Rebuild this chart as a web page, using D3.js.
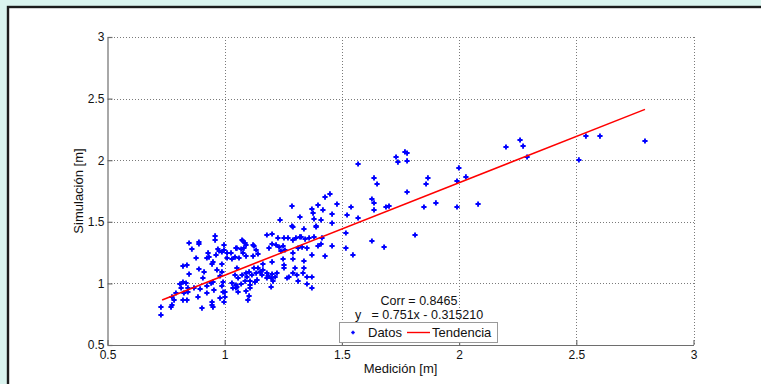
<!DOCTYPE html>
<html>
<head>
<meta charset="utf-8">
<script src="https://cdn.jsdelivr.net/npm/d3@7"></script>
<style>
  html, body { margin: 0; padding: 0; background: #daf4ef; }
  svg { display: block; }
  text { font-family: "Liberation Sans", Arial, Helvetica, sans-serif; fill: #111; }
</style>
</head>
<body>
<svg id="chart" width="761" height="384"></svg>
<script>
// Measured values (Medición) and simulated values (Simulación), in metres
const medicion = [
  0.728, 0.728, 0.771, 0.775, 0.775, 0.784, 0.792, 0.814, 0.809, 0.822,
  0.835, 0.826, 0.843, 0.843, 0.839, 0.869, 0.886, 0.895, 0.903, 0.924,
  0.924, 0.942, 0.950, 0.954, 0.946, 0.946, 0.950, 0.980, 0.993, 1.001,
  0.997, 1.001, 0.988, 0.993, 0.980, 0.988, 0.967, 0.988, 1.031, 1.048,
  1.035, 1.048, 1.057, 0.848, 0.890, 0.912, 0.907, 0.839, 0.822, 0.878,
  0.860, 0.848, 0.890, 0.890, 0.959, 0.959, 0.924, 0.929, 0.950, 0.946,
  0.963, 0.971, 0.976, 0.988, 0.997, 1.010, 1.027, 1.048, 1.010, 1.031,
  1.044, 0.822, 0.933, 1.121, 0.997,
  1.291, 1.338, 1.390, 1.180, 1.202, 1.227, 1.253, 1.270, 1.291, 1.304,
  1.326, 1.343, 1.360, 1.381, 1.415, 1.074, 1.087, 1.052, 1.070, 1.082,
  1.091, 1.125, 1.134, 1.078, 1.091, 1.061, 1.121, 1.142, 1.189, 1.202,
  1.219, 1.232, 1.249, 1.257, 1.240, 1.291, 1.313, 1.330, 1.351, 1.398,
  1.411, 1.458, 1.428, 1.372, 1.291, 1.249, 1.253, 1.253, 1.300, 1.338,
  1.338, 1.334, 1.291, 1.266, 1.274, 1.308, 1.313, 1.351, 1.372, 1.351,
  1.372, 1.202, 1.163, 1.142, 1.125, 1.104, 1.091, 1.074, 1.057, 1.095,
  1.116, 1.134, 1.151, 1.163, 1.180, 1.185, 1.202, 1.215, 1.223, 1.198,
  1.180, 1.159, 1.138, 1.108, 1.087, 1.070, 1.108, 1.129, 1.206, 1.198,
  1.108, 1.091, 1.104, 1.099, 1.052, 1.044, 1.052, 1.078, 1.321,
  1.236, 1.287, 1.287, 1.321, 1.372, 1.377, 1.398, 1.419, 1.428, 1.449,
  1.479, 1.458, 1.458, 1.411, 1.381, 1.390, 1.522, 1.517, 1.517, 1.539,
  1.547, 1.569, 1.569, 1.628, 1.637, 1.637, 1.637, 1.650, 1.628, 1.680,
  1.688, 1.701, 1.731, 1.739, 1.769, 1.778, 1.778, 1.778, 1.812, 1.850,
  1.859, 1.867, 1.901, 1.991, 1.991, 1.999, 2.029, 2.081, 2.200, 2.260,
  2.273, 2.290, 2.511, 2.541, 2.601, 2.793
];
const simulacion = [
  0.808, 0.744, 0.808, 0.825, 0.890, 0.865, 0.922, 0.963, 0.995, 1.011,
  1.003, 0.922, 0.930, 0.963, 0.865, 0.963, 0.890, 0.955, 0.800, 0.922,
  0.979, 1.003, 1.011, 0.946, 0.825, 0.849, 0.808, 0.881, 0.930, 0.890,
  0.849, 0.930, 0.979, 1.011, 1.060, 1.093, 1.109, 1.157, 1.003, 0.987,
  0.963, 0.963, 0.930, 1.076, 1.117, 1.093, 1.044, 1.149, 1.141, 1.206,
  1.279, 1.328, 1.336, 1.320, 1.385, 1.352, 1.206, 1.247, 1.174, 1.157,
  1.231, 1.279, 1.263, 1.255, 1.271, 1.247, 1.247, 1.287, 1.206, 1.198,
  1.214, 0.865, 1.214, 1.312, 1.312,
  1.458, 1.442, 1.458, 1.393, 1.401, 1.369, 1.369, 1.369, 1.352, 1.369,
  1.377, 1.360, 1.369, 1.377, 1.369, 1.352, 1.328, 1.287, 1.279, 1.287,
  1.312, 1.304, 1.271, 1.247, 1.222, 1.206, 1.222, 1.239, 1.287, 1.320,
  1.312, 1.295, 1.304, 1.271, 1.263, 1.247, 1.287, 1.295, 1.287, 1.304,
  1.320, 1.304, 1.222, 1.231, 1.198, 1.198, 1.149, 1.125, 1.125, 1.182,
  1.125, 1.084, 1.084, 1.044, 1.052, 1.068, 1.019, 1.052, 1.052, 0.995,
  0.963, 1.174, 1.157, 1.125, 1.125, 1.093, 1.084, 1.068, 1.044, 1.052,
  1.068, 1.084, 1.093, 1.109, 1.084, 1.060, 1.076, 1.052, 1.084, 1.044,
  1.044, 1.068, 1.028, 1.019, 1.019, 0.995, 0.987, 1.011, 1.019, 0.971,
  0.963, 0.938, 0.898, 0.865, 0.971, 1.068, 1.125, 1.344, 1.377,
  1.515, 1.628, 1.466, 1.539, 1.604, 1.571, 1.636, 1.596, 1.701, 1.726,
  1.644, 1.563, 1.490, 1.515, 1.523, 1.466, 1.555, 1.409, 1.287, 1.620,
  1.231, 1.969, 1.531, 1.685, 1.653, 1.596, 1.856, 1.807, 1.344, 1.295,
  1.620, 1.628, 2.026, 1.985, 2.067, 2.058, 1.994, 1.742, 1.393, 1.620,
  1.807, 1.856, 1.653, 1.620, 1.831, 1.937, 1.864, 1.644, 2.107, 2.164,
  2.115, 2.026, 2.002, 2.196, 2.196, 2.156
];

// Trend line (Tendencia): y = slope * x + intercept over the measured range
const trendSlope = 0.751;
const trendIntercept = 0.315210;
const trendX = [0.733, 2.793];

// Axis ticks and labels
const xTicks = [0.5, 1, 1.5, 2, 2.5, 3];
const xTickLabels = ["0.5", "1", "1.5", "2", "2.5", "3"];
const yTicks = [0.5, 1, 1.5, 2, 2.5, 3];
const yTickLabels = ["0.5", "1", "1.5", "2", "2.5", "3"];

const xTitle = "Medición [m]";
const yTitle = "Simulación [m]";
const statLines = ["Corr = 0.8465", "y   = 0.751x - 0.315210"];
const legendLabels = ["Datos", "Tendencia"];

const svg = d3.select("#chart");

// Figure panel (white with dark frame, running off the right/bottom edges)
svg.append("rect")
  .attr("x", 8).attr("y", 7)
  .attr("width", 800).attr("height", 420)
  .attr("fill", "#ffffff")
  .attr("stroke", "#1c1c1c")
  .attr("stroke-width", 2.4);

const plot = { left: 107.5, right: 693.5, top: 37, bottom: 345 };

const x = d3.scaleLinear().domain([0.5, 3]).range([plot.left, plot.right]);
const y = d3.scaleLinear().domain([0.5, 3]).range([plot.bottom, plot.top]);

// Dotted grid
const grid = svg.append("g")
  .attr("stroke", "#7a7a7a")
  .attr("stroke-width", 1)
  .attr("stroke-dasharray", "1,2")
  .attr("shape-rendering", "crispEdges");
grid.selectAll("line.gx").data(xTicks.slice(1)).join("line")
  .attr("x1", d => Math.round(x(d)) + 0.5).attr("x2", d => Math.round(x(d)) + 0.5)
  .attr("y1", plot.top).attr("y2", plot.bottom);
grid.selectAll("line.gy").data(yTicks.slice(1)).join("line")
  .attr("x1", plot.left).attr("x2", plot.right)
  .attr("y1", d => Math.round(y(d)) + 0.5).attr("y2", d => Math.round(y(d)) + 0.5);

// Axes (bottom and left only, inward ticks)
const xAxis = d3.axisBottom(x)
  .tickValues(xTicks)
  .tickFormat((d, i) => xTickLabels[i])
  .tickSizeInner(-5).tickSizeOuter(0).tickPadding(5);
const yAxis = d3.axisLeft(y)
  .tickValues(yTicks)
  .tickFormat((d, i) => yTickLabels[i])
  .tickSizeInner(-5).tickSizeOuter(0).tickPadding(3);

function styleAxis(g) {
  g.select(".domain").attr("stroke", "#6e6e6e").attr("stroke-width", 1.2);
  g.selectAll(".tick line").attr("stroke", "#6e6e6e").attr("stroke-width", 1.2);
  g.selectAll(".tick text")
    .attr("fill", "#111")
    .style("font-size", "12px")
    .style("font-family", "'Liberation Sans', Arial, sans-serif");
}

svg.append("g")
  .attr("transform", `translate(0,${plot.bottom})`)
  .call(xAxis).call(styleAxis);
svg.append("g")
  .attr("transform", `translate(${plot.left},0)`)
  .call(yAxis).call(styleAxis);

// Axis titles
svg.append("text")
  .attr("x", (plot.left + plot.right) / 2)
  .attr("y", 373)
  .attr("text-anchor", "middle")
  .style("font-size", "13px")
  .text(xTitle);
svg.append("text")
  .attr("transform", `translate(83,${(plot.top + plot.bottom) / 2}) rotate(-90)`)
  .attr("text-anchor", "middle")
  .style("font-size", "13px")
  .text(yTitle);

// Scatter points
const plusPath = "M-2.6,0H2.6M0,-2.6V2.6";
svg.append("g")
  .selectAll("path")
  .data(d3.range(medicion.length))
  .join("path")
  .attr("transform", i => `translate(${x(medicion[i])},${y(simulacion[i])})`)
  .attr("d", plusPath)
  .attr("stroke", "#0000ff")
  .attr("stroke-width", 1.9)
  .attr("fill", "none");

// Trend line
svg.append("path")
  .datum(trendX)
  .attr("d", d3.line().x(d => x(d)).y(d => y(trendSlope * d + trendIntercept)))
  .attr("stroke", "#ff0000")
  .attr("stroke-width", 1.5)
  .attr("fill", "none");

// Statistics annotation
const stat = svg.append("text")
  .attr("text-anchor", "middle")
  .style("font-size", "12.5px")
  .style("white-space", "pre");
statLines.forEach((line, i) => {
  stat.append("tspan")
    .attr("x", 419)
    .attr("y", 305 + i * 14)
    .attr("xml:space", "preserve")
    .text(line);
});

// Legend
const legend = svg.append("g").attr("transform", "translate(339,322)");
legend.append("rect")
  .attr("x", 0.5).attr("y", 0.5)
  .attr("width", 158).attr("height", 20)
  .attr("fill", "#ffffff")
  .attr("stroke", "#9a9a9a")
  .attr("stroke-width", 1);
legend.append("path")
  .attr("transform", "translate(14,10.5)")
  .attr("d", "M-1.8,0H1.8M0,-1.8V1.8")
  .attr("stroke", "#0000ff")
  .attr("stroke-width", 1.6);
legend.append("text")
  .attr("x", 29).attr("y", 15)
  .style("font-size", "13px")
  .text(legendLabels[0]);
legend.append("line")
  .attr("x1", 68).attr("x2", 91)
  .attr("y1", 10.5).attr("y2", 10.5)
  .attr("stroke", "#ff0000")
  .attr("stroke-width", 1.4);
legend.append("text")
  .attr("x", 93).attr("y", 15)
  .style("font-size", "13px")
  .text(legendLabels[1]);
</script>
</body>
</html>
